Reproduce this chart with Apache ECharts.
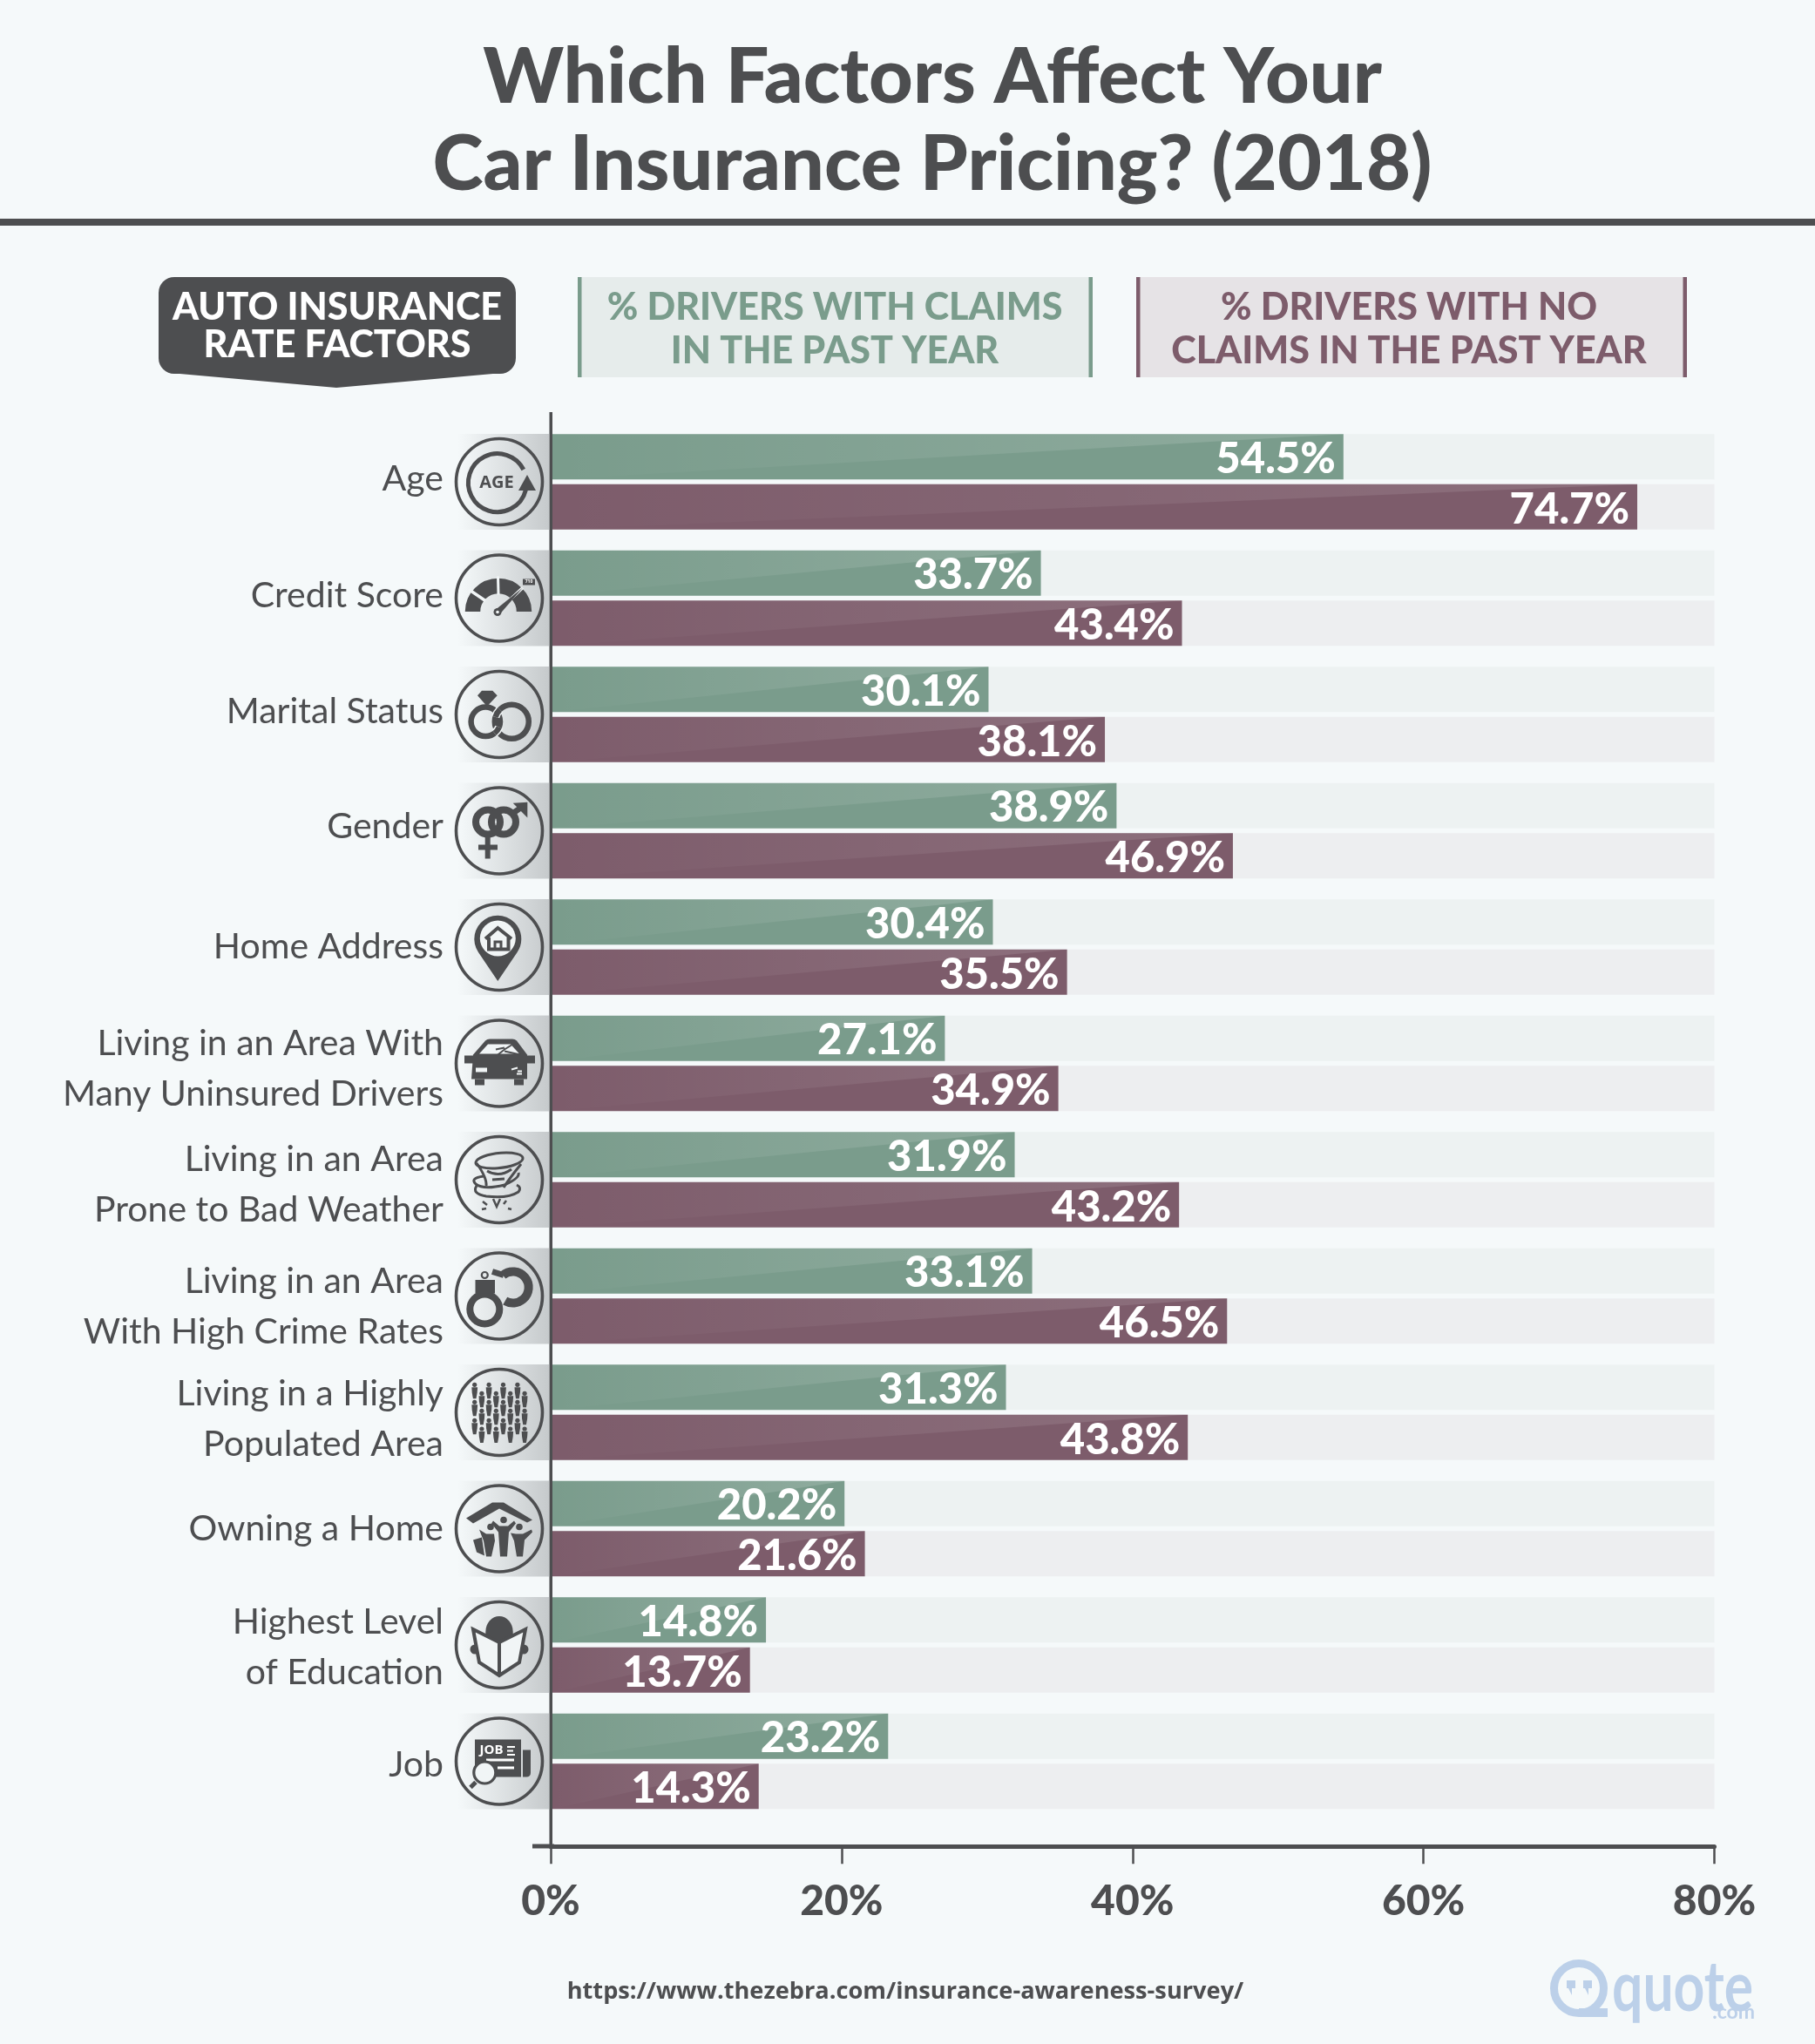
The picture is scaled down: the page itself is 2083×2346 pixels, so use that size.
<!DOCTYPE html>
<html>
<head>
<meta charset="utf-8">
<title>Which Factors Affect Your Car Insurance Pricing? (2018)</title>
<script src="https://cdn.jsdelivr.net/npm/echarts@6/dist/echarts.min.js"></script>
<style>
html,body{margin:0;padding:0;background:#f5f9fa;}
#chart{width:2083px;height:2346px;}
</style>
</head>
<body>
<div id="chart"></div>
<script>
//data
var categories=['Age','Credit Score','Marital Status','Gender','Home Address','Living in an Area With\nMany Uninsured Drivers','Living in an Area\nProne to Bad Weather','Living in an Area\nWith High Crime Rates','Living in a Highly\nPopulated Area','Owning a Home','Highest Level\nof Education','Job'];
var withClaims=[54.5,33.7,30.1,38.9,30.4,27.1,31.9,33.1,31.3,20.2,14.8,23.2];
var noClaims=[74.7,43.4,38.1,46.9,35.5,34.9,43.2,46.5,43.8,21.6,13.7,14.3];
var xMax=80;
var xStep=20;

var INK='#4d4e50';
var LIGHT='#f1f5f6';
var GREEN='#7a9c8c';
var PURPLE='#7d5c6b';
var FONT='Lato, sans-serif';

//the labels sit a little off centre in the original, px up or down per row
var labelNudge=[-3,-3,-3,-4.5,0,6,6,12,7.5,0,3,4.5];

//icon helpers, coordinates are px from the circle centre
function fillP(d,color){
	return {type:'path',shape:{pathData:d},style:{fill:color||INK}};
}
function lineP(d,w,color){
	return {type:'path',shape:{pathData:d},style:{fill:'none',stroke:color||INK,lineWidth:w}};
}
function ring(cx,cy,r){
	return 'M'+(cx-r)+' '+cy+'A'+r+' '+r+' 0 1 1 '+(cx+r)+' '+cy+'A'+r+' '+r+' 0 1 1 '+(cx-r)+' '+cy+'Z';
}
function label(text,x,y,size,color){
	return {type:'text',style:{text:text,x:x,y:y,fill:color||INK,font:'bold '+size+'px "Open Sans", sans-serif',align:'center',verticalAlign:'middle'}};
}
function crowd(){
	var out=[];
	for(var c=0;c<8;c++){
		var x=-28.3+c*8.2;
		var rows=c%2==0?[-31.7,-11.7,9.3]:[-21.7,-1.7,19];
		for(var r=0;r<3;r++){
			var y=rows[r];
			out.push(fillP(ring(x,y,2.6)));
			out.push(fillP('M'+(x-3.4)+' '+(y+3)+'L'+(x+3.4)+' '+(y+3)+'L'+(x+3)+' '+(y+9)+'L'+(x+1.8)+' '+(y+16)+'L'+(x-1.8)+' '+(y+16)+'L'+(x-3)+' '+(y+9)+'Z'));
		}
	}
	return out;
}

//one list of shapes per category
var icons=[
	//age
	[
		lineP('M27.8 -14A33.5 33.5 0 1 0 30.5 9',5),
		fillP('M32 -8L22 10L42 10Z'),
		label('AGE',-3,1,20)
	],
	//credit score
	[
		lineP('M-30.5 15.5A29.5 29.5 0 0 1 28.5 15.5',17.5),
		lineP('M-1.5 -25L-1 -4',3,LIGHT),
		lineP('M-35 -10L-16 3',3.5,LIGHT),
		lineP('M-3 16L27 -12',3.5,LIGHT),
		fillP('M-4 13L26.7 -11.7L1 18Z'),
		fillP(ring(-2,16,4.5)),
		fillP(ring(-2,16,1.8),LIGHT),
		fillP('M27 -22L41 -22L41 -15L27 -15Z'),
		label('710',34,-18.5,5,'#ffffff')
	],
	//marital status
	[
		lineP(ring(-15.7,8.3,16.7),6.5),
		lineP(ring(14.3,8.3,19.5),6.5),
		lineP('M-4.4 2.9A19.5 19.5 0 0 1 0.75 -5.7',9.5,LIGHT),
		lineP('M-4.4 2.9A19.5 19.5 0 0 1 0.75 -5.7',6.5),
		lineP('M-0.2 14.6A16.7 16.7 0 0 1 -5.4 21.5',9.5,LIGHT),
		lineP('M-0.2 14.6A16.7 16.7 0 0 1 -5.4 21.5',6.5),
		fillP('M-25 -21.7L-20 -27.3L-7.7 -27.3L-2.3 -21.7L-14 -9.3Z')
	],
	//gender
	[
		lineP(ring(-13,-10,14),8),
		lineP(ring(5,-10,14),8),
		lineP('M-13.3 5L-13.3 32',6),
		lineP('M-24 19L-2 19',6),
		lineP('M14 -19L27 -28',6.5),
		fillP('M15.7 -31.7L32.3 -32.7L32.3 -15Z')
	],
	//home address
	[
		fillP('M-1.7 39L-24 6A27 27 0 1 1 20.6 6Z'),
		fillP(ring(-1.7,-10,20.5),LIGHT),
		lineP('M-16 -9.5L-1.7 -22L14 -9.5',4),
		lineP('M-12 -11L-12 2.5L10.5 2.5L10.5 -11',4),
		lineP('M-5 2L-5 -6L2 -6L2 2',3)
	],
	//uninsured drivers
	[
		fillP('M-30 -10L-16 -26Q-14 -28 -11 -28L15 -28Q18 -28 20 -26L32 -10L32 18L-32 18Z'),
		fillP('M-23 -11L-13 -22L13 -22L23 -11Z',LIGHT),
		fillP('M-40 -9L-30 -9L-30 0L-40 0Z'),
		fillP('M31 -9L41 -9L41 0L31 0Z'),
		fillP('M-28 18L-17 18L-17 25L-28 25Z'),
		fillP('M17 18L28 18L28 25L17 25Z'),
		fillP('M-27 5L-14 5L-14 10L-27 10Z',LIGHT),
		lineP('M14 7L21 5M21 9L26 9M20 12L26 12',2,LIGHT),
		lineP('M-4 -16L6 -18M-4 -8L6 -16L14 -21M6 -14L24 -10',2)
	],
	//bad weather
	[
		lineP('M-27 -20A27 8.5 -6 1 1 27 -24A27 8.5 -6 1 1 -27 -20Z',3),
		lineP('M-26 -19Q-14 -2 -15 7M25 -18Q12 -2 5 9M-14 -10Q0 -2 14 -12M-8 0L6 -1',3),
		lineP('M-18 -4Q-34 -2 -27 5Q-18 12 6 6Q24 -2 22 -8',3),
		lineP('M-26 7Q-32 16 -15 19Q10 22 22 14Q26 9 20 6',3),
		lineP('M-7 22L-3 31L1 22M-19 25L-14 29M-20 34L-15 33M8 24L5 28M10 33L14 34',2.5)
	],
	//high crime rates
	[
		lineP(ring(-16.7,15,17),8),
		fillP('M-27.5 -18.5L-5 -18.5L-5 -3L-27.5 -3Z'),
		lineP(ring(-16.7,-24,3.5),2.2),
		lineP('M-8 -28L5 -24',7),
		lineP('M4.1 -23.8A18 18 0 1 1 6.7 5.6',10)
	],
	//populated area
	crowd(),
	//owning a home
	[
		fillP('M-38 -12L-8 -30L5 -30L38 -10L32 -7L0 -23L-30 -6Z'),
		fillP(ring(5,-10,3.8)),
		fillP(ring(-10,-2,3.8)),
		fillP(ring(23,-2,3.8)),
		fillP('M-7 -9L0 -3L10 -3L17 -9L19 -6L11 4L9 32L1 32L-1 4L-9 -6Z'),
		fillP('M-23 1L-15 6L-6 6L-5 14L-9 32L-15 32L-18 14Z'),
		fillP('M13 5L19 6L27 6L37 1L38 4L29 13L27 32L20 32L17 14Z'),
		fillP('M-30 13L-20 10L-17 31L-26 27Z')
	],
	//education
	[
		fillP('M-15.7 -15A15.7 18 0 0 1 15.7 -15L15.7 -10L0 -3L-15.7 -10Z'),
		fillP(ring(-28,5,5.5)),
		fillP(ring(28,5,5.5)),
		fillP('M-30 -18L0 -3L30 -18L23 20L0 35L-23 20Z',LIGHT),
		lineP('M-30 -18L0 -3L30 -18L23 20L0 35L-23 20ZM0 -3L0 35',4)
	],
	//job
	[
		fillP('M-28 -25L25 -25L25 18L-28 18Z'),
		fillP('M27 -13L36 -13Q36 -13 36 -8L36 13Q36 18 31 18L27 18Z'),
		label('JOB',-9,-12.5,15,'#ffffff'),
		fillP('M9 -17.5L18 -17.5L18 -15.5L9 -15.5ZM9 -13L16 -13L16 -11L9 -11ZM9 -8.5L18 -8.5L18 -6.5L9 -6.5Z','#ffffff'),
		lineP('M-15 -1.5L17 -1.5M-2 7.5L17 7.5',3,'#ffffff'),
		fillP(ring(-16.7,13,12.5),LIGHT),
		lineP(ring(-16.7,13,12.5),3.2),
		lineP('M-27 24L-33 30',5)
	]
];

//rows for the series
function rowsOf(values){
	return values.map(function(v,i){return [v,i];});
}

//rich styles for the axis names: padding moves a line by half its amount
var nameStyle={color:INK,fontFamily:FONT,fontSize:41,lineHeight:58,align:'right'};
function nameRich(){
	var rich={};
	labelNudge.forEach(function(n,i){
		rich['r'+i]=Object.assign({},nameStyle,{padding:n>0?[n*2,0,0,0]:[0,0,-n*2,0]});
	});
	return rich;
}
function nameText(value,index){
	return value.split('\n').map(function(line){
		return '{r'+index+'|'+line+'}';
	}).join('\n');
}

//light triangle on a bar, halfway along its diagonal
function glossItem(side,alpha){
	return function(params,api){
		var end=api.coord([api.value(0),api.value(1)]);
		var zero=api.coord([0,api.value(1)]);
		var top=end[1]+side*28.8-26;
		return {
			type:'polygon',
			silent:true,
			shape:{points:[[zero[0]+2,top],[end[0],top],[zero[0]+2,top+52]]},
			style:{fill:{type:'linear',x:0,y:0,x2:1,y2:0,colorStops:[
				{offset:0,color:'rgba(255,255,255,0)'},
				{offset:1,color:'rgba(255,255,255,'+alpha+')'}
			]}}
		};
	};
}

//grey fade, circle and icon left of the axis
function iconItem(params,api){
	var p=api.coord([0,api.value(1)]);
	var kids=[
		{type:'rect',shape:{x:-48,y:-55,width:105,height:110},style:{fill:{type:'linear',x:0,y:0,x2:1,y2:0,colorStops:[
			{offset:0,color:'rgba(198,202,204,0)'},
			{offset:1,color:'rgba(198,202,204,1)'}
		]}}},
		lineP(ring(0,0,49.5),3.6)
	].concat(icons[params.dataIndex]);
	return {type:'group',x:p[0]-59,y:p[1],silent:true,children:kids};
}

function legendText(text,x,y,size,color){
	return {type:'text',style:{text:text,x:x,y:y,fill:color,font:'900 '+size+'px '+FONT,align:'center',verticalAlign:'middle'}};
}
function box(x,y,w,h,color,r){
	return {type:'rect',shape:{x:x,y:y,width:w,height:h,r:r||0},style:{fill:color}};
}
function axisBox(x,y,w,h){
	var b=box(x,y,w,h,INK);
	b.z=20;
	return b;
}

var myChart=echarts.init(document.getElementById('chart'));
var barLabel={show:true,position:'insideRight',distance:9,offset:[0,3],formatter:'{c}%',color:'#ffffff',fontFamily:FONT,fontWeight:900,fontSize:49};
var option={
	backgroundColor:'#f5f9fa',
	animation:false,
	title:{
		text:'Which Factors Affect Your\nCar Insurance Pricing? (2018)',
		left:1065,
		top:35,
		textAlign:'center',
		textStyle:{fontFamily:FONT,fontWeight:900,fontSize:88,lineHeight:100,color:INK}
	},
	grid:{left:632,top:486.25,width:1335.5,height:1602,containLabel:false},
	xAxis:{
		type:'value',min:0,max:xMax,interval:xStep,offset:31,
		axisLine:{show:true,lineStyle:{color:INK,width:5}},
		axisTick:{show:true,length:20,lineStyle:{color:INK,width:2.5}},
		splitLine:{show:false},
		axisLabel:{formatter:'{value}%',margin:39,color:INK,fontFamily:FONT,fontWeight:900,fontSize:48}
	},
	yAxis:{
		type:'category',data:categories,inverse:true,
		axisLine:{show:false},axisTick:{show:false},
		axisLabel:{margin:123,align:'right',color:INK,fontFamily:FONT,fontSize:41,lineHeight:58,formatter:nameText,rich:nameRich()}
	},
	series:[
		{
			name:'% Drivers with claims in the past year',type:'bar',data:withClaims,
			barWidth:52,barGap:'11%',
			showBackground:true,backgroundStyle:{color:'#edf2f2'},
			itemStyle:{color:GREEN},
			label:barLabel
		},
		{
			name:'% Drivers with no claims in the past year',type:'bar',data:noClaims,
			barWidth:52,
			showBackground:true,backgroundStyle:{color:'#edeef0'},
			itemStyle:{color:PURPLE},
			label:barLabel
		},
		{type:'custom',data:rowsOf(withClaims),encode:{x:0,y:1},renderItem:glossItem(-1,0.16),silent:true,z:3},
		{type:'custom',data:rowsOf(noClaims),encode:{x:0,y:1},renderItem:glossItem(1,0.12),silent:true,z:3},
		{type:'custom',data:categories.map(function(c,i){return [0,i];}),encode:{x:0,y:1},renderItem:iconItem,clip:false,silent:true}
	],
	graphic:[
		//title rule
		box(0,251,2083,8,INK),
		//badge
		box(182,318,410,111,INK,18),
		{type:'polygon',shape:{points:[[195,428],[386,445],[577,428]]},style:{fill:INK}},
		legendText('AUTO INSURANCE',387,353.5,43,'#ffffff'),
		legendText('RATE FACTORS',387,396,43,'#ffffff'),
		//green legend
		box(663,318,591,115,'#e6eceb'),
		box(663,318,4.5,115,GREEN),
		box(1249.5,318,4.5,115,GREEN),
		legendText('% DRIVERS WITH CLAIMS',958,353.5,43,GREEN),
		legendText('IN THE PAST YEAR',958,403.5,43,GREEN),
		//purple legend
		box(1304,318,632,115,'#e6e3e6'),
		box(1304,318,4.5,115,PURPLE),
		box(1931.5,318,4.5,115,PURPLE),
		legendText('% DRIVERS WITH NO',1617,353.5,43,PURPLE),
		legendText('CLAIMS IN THE PAST YEAR',1617,403.5,43,PURPLE),
		//axis extensions
		axisBox(630.5,473,3.5,1646),
		axisBox(611,2116.5,25,5),
		//source
		{type:'text',style:{text:'https://www.thezebra.com/insurance-awareness-survey/',x:1039,y:2286,fill:INK,font:'bold 27.2px "Open Sans", sans-serif',align:'center',verticalAlign:'middle'}},
		//logo
		{type:'circle',shape:{cx:1812,cy:2282,r:28.5},style:{fill:'none',stroke:'#bcd0e9',lineWidth:9}},
		box(1812,2305,33,10,'#bcd0e9'),
		box(1798,2273,10,9,'#bcd0e9'),
		box(1817,2273,10,9,'#bcd0e9'),
		{type:'polygon',shape:{points:[[1800,2282],[1804,2282],[1804,2290]]},style:{fill:'#bcd0e9'}},
		{type:'polygon',shape:{points:[[1819,2282],[1823,2282],[1823,2290]]},style:{fill:'#bcd0e9'}},
		{type:'text',x:1850,y:2282,scaleX:0.78,style:{text:'quote',x:0,y:0,fill:'#bcd0e9',font:'bold 80px '+FONT,align:'left',verticalAlign:'middle'}},
		{type:'text',style:{text:'.com',x:2014,y:2310,fill:'#bcd0e9',font:'bold 23px '+FONT,align:'right',verticalAlign:'middle'}}
	]
};
myChart.setOption(option);
</script>
</body>
</html>
